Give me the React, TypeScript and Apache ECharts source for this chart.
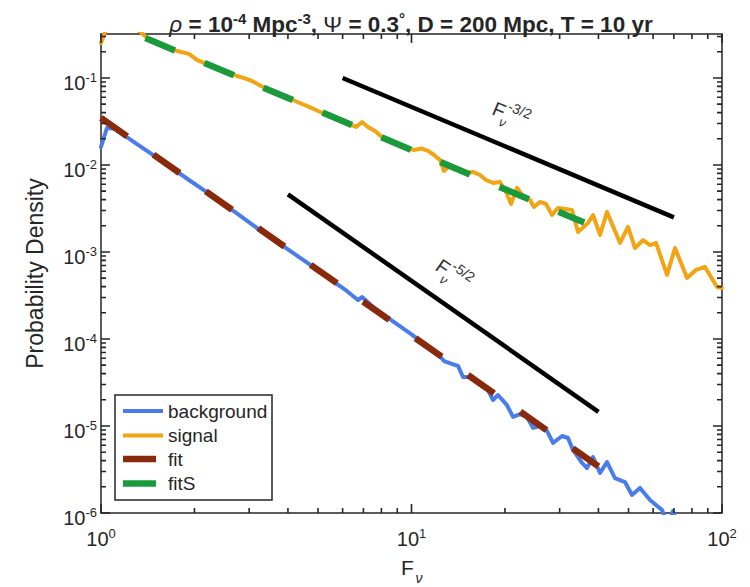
import React, { useEffect, useRef } from 'react';
import * as echarts from 'echarts';

const FONT = '"Liberation Sans", Arial, Helvetica, sans-serif';
const INK = '#262626';

// ---- data ----
const backgroundF = [1, 1.045, 1.109, 1.195, 1.306, 1.438, 1.584, 1.744, 1.92, 2.115, 2.329, 2.564, 2.824, 3.11, 3.424, 3.771, 4.153, 4.573, 5.036, 5.546, 6.107, 6.48, 6.725, 6.93, 7.46, 8.22, 9.05, 10, 10.97, 12.08, 12.73, 13.5, 14.12, 14.65, 15.43, 16.62, 17.64, 18.31, 18.99, 20.3, 21.23, 22.36, 23.55, 24.63, 25.93, 27.31, 28.56, 30.53, 31.92, 33.12, 35.41, 36.75, 38.42, 40.47, 42.62, 45.22, 48.71, 51.3, 54.44, 58.64, 64.1, 67.0, 69.5, 73.2];
const backgroundP = [0.0161, 0.0266, 0.026, 0.0216, 0.0174, 0.01374, 0.0108, 0.00853, 0.00672, 0.0053, 0.00418, 0.00329, 0.00256, 0.00199, 0.00157, 0.00124, 0.000975, 0.000768, 0.000605, 0.00047, 0.00037, 0.000312, 0.00028, 0.000304, 0.000239, 0.000184, 0.000145, 0.000113, 0.0000877, 0.000069, 0.0000558, 0.0000516, 0.000049, 0.0000366, 0.0000366, 0.0000304, 0.0000259, 0.0000199, 0.0000227, 0.0000174, 0.0000127, 0.0000137, 0.0000127, 0.0000095, 0.00001, 0.00000877, 0.00000638, 0.00000767, 0.00000728, 0.0000053, 0.00000376, 0.00000329, 0.0000044, 0.00000288, 0.00000385, 0.00000252, 0.00000227, 0.00000161, 0.00000194, 0.00000141, 0.00000108, 0.00000073, 0.00000105, 0.00000064];

const signalF = [1, 1.061, 1.126, 1.195, 1.268, 1.345, 1.428, 1.515, 1.607, 1.706, 1.81, 1.92, 2.038, 2.163, 2.294, 2.435, 2.584, 2.742, 2.91, 3.087, 3.276, 3.476, 3.688, 3.914, 4.153, 4.407, 4.676, 4.962, 5.265, 5.587, 5.929, 6.29, 6.63, 6.93, 7.24, 7.63, 8.09, 8.59, 9.12, 9.67, 10.19, 10.73, 11.3, 11.82, 12.36, 12.73, 13.31, 14.12, 14.98, 15.78, 16.62, 17.38, 18.31, 19.28, 20.16, 20.92, 21.87, 22.87, 24.08, 24.8, 25.93, 27.12, 28.35, 29.64, 31.22, 32.88, 34.38, 37.02, 38.42, 40.47, 42.62, 46.95, 49.82, 52.47, 55.67, 58.64, 61.31, 66.52, 70.58, 77.17, 82.47, 88.15, 96.36, 100];
const signalP = [0.252, 0.441, 0.45, 0.42, 0.38, 0.335, 0.274, 0.259, 0.23, 0.21, 0.199, 0.189, 0.161, 0.147, 0.1356, 0.1236, 0.114, 0.1054, 0.0987, 0.0912, 0.0809, 0.0728, 0.0664, 0.0605, 0.0558, 0.0509, 0.0465, 0.0423, 0.0385, 0.0356, 0.0325, 0.0296, 0.02735, 0.0312, 0.02735, 0.0246, 0.0204, 0.0186, 0.017, 0.0156, 0.01486, 0.01549, 0.01449, 0.01303, 0.0114, 0.00853, 0.01, 0.009, 0.0081, 0.00831, 0.00767, 0.00672, 0.00621, 0.00638, 0.0049, 0.00356, 0.00545, 0.00441, 0.00396, 0.00329, 0.00376, 0.00356, 0.00266, 0.00321, 0.00312, 0.00304, 0.0017, 0.00215, 0.00266, 0.00157, 0.00288, 0.00127, 0.00194, 0.00111, 0.00137, 0.0012, 0.00127, 0.000545, 0.00111, 0.000502, 0.000621, 0.000673, 0.000396, 0.000386];

const fitF = [1, 40];
const fitP = [0.0347, 0.00000343];
const fitSF = [1.39, 36];
const fitSP = [0.287, 0.00218];
const guide32F = [6, 70];
const guide32P = [0.1, 0.0025];
const guide52F = [4, 40];
const guide52P = [0.0046, 0.00001455];

const xMajorTicks = [1, 10, 100];
const xMinorTicks = [2, 3, 4, 5, 6, 7, 8, 9, 20, 30, 40, 50, 60, 70, 80, 90];
const yMajorTicks = [1e-6, 1e-5, 1e-4, 1e-3, 1e-2, 1e-1];
const yMinorTicks = [
  2e-6, 3e-6, 4e-6, 5e-6, 6e-6, 7e-6, 8e-6, 9e-6,
  2e-5, 3e-5, 4e-5, 5e-5, 6e-5, 7e-5, 8e-5, 9e-5,
  2e-4, 3e-4, 4e-4, 5e-4, 6e-4, 7e-4, 8e-4, 9e-4,
  2e-3, 3e-3, 4e-3, 5e-3, 6e-3, 7e-3, 8e-3, 9e-3,
  2e-2, 3e-2, 4e-2, 5e-2, 6e-2, 7e-2, 8e-2, 9e-2,
  2e-1, 3e-1,
];
const X_MIN = 1;
const X_MAX = 100;
const Y_MIN = 1e-6;
const Y_MAX = 0.32;

// grid geometry
const GRID = { left: 101, right: 28, top: 34, bottom: 74 };
const W = 750;
const H = 587;
const MAJOR_LEN = 9;
const MINOR_LEN = 5;

const pairs = (xs: number[], ys: number[]) => xs.map((x, i) => [x, ys[i]]);

const COLORS = {
  background: '#4A7DEB',
  signal: '#F2A414',
  fit: '#8A2A0C',
  fitS: '#1B9A3C',
  guide: '#000000',
};

const tickRich = {
  b: { fontSize: 20, lineHeight: 24, fontFamily: FONT, color: INK },
  s: { fontSize: 13, lineHeight: 13, verticalAlign: 'top', fontFamily: FONT, color: INK },
};
const powLabel = (v: number) => `{b|10}{s|${Math.round(Math.log10(v))}}`;

const titleText =
  '{i|ρ}{b| = 10}{s|-4}{b| Mpc}{s|-3}{b|, }{p|Ψ}{b| = 0.3}{s|°}{b|, D = 200 Mpc, T = 10 yr}';

function slopeLabel(x: number, y: number, rot: number, exp: string) {
  return {
    type: 'group',
    x,
    y,
    rotation: rot,
    z: 10,
    children: [
      { type: 'text', x: 0, y: 0, style: { text: 'F', fontSize: 20, fontFamily: FONT, fill: '#333', align: 'center', verticalAlign: 'middle' } },
      { type: 'text', x: 7.5, y: -8, style: { text: exp, fontSize: 14, fontFamily: FONT, fill: '#333', align: 'left', verticalAlign: 'middle' } },
      { type: 'text', x: 8, y: 10, style: { text: 'ν', fontSize: 13, fontStyle: 'italic', fontFamily: FONT, fill: '#333', align: 'center', verticalAlign: 'middle' } },
    ],
  };
}

const baseGraphic: any[] = [
  {
    type: 'text',
    x: 411,
    y: 24,
    z: 10,
    style: {
      text: titleText,
      align: 'center',
      verticalAlign: 'middle',
      fill: INK,
      rich: {
        b: { fontSize: 22.5, lineHeight: 26, fontWeight: 'bold', fontFamily: FONT, fill: INK },
        i: { fontSize: 22.5, lineHeight: 26, fontStyle: 'italic', fontFamily: FONT, fill: INK },
        p: { fontSize: 22.5, lineHeight: 26, fontFamily: FONT, fill: INK },
        s: { fontSize: 15, lineHeight: 19, verticalAlign: 'top', fontWeight: 'bold', fontFamily: FONT, fill: INK },
      },
    },
  },
  {
    type: 'text',
    x: 407.5,
    y: 567,
    z: 10,
    style: { text: 'F', fontSize: 21, fontFamily: FONT, fill: INK, align: 'center', verticalAlign: 'middle' },
  },
  {
    type: 'text',
    x: 419,
    y: 577.5,
    z: 10,
    style: { text: 'ν', fontSize: 14, fontStyle: 'italic', fontFamily: FONT, fill: INK, align: 'center', verticalAlign: 'middle' },
  },
  {
    type: 'rect',
    z: 3,
    shape: { x: 115, y: 395, width: 157, height: 105 },
    style: { fill: '#ffffff', stroke: INK, lineWidth: 1.5 },
  },
  slopeLabel(499, 110, -0.398, '-3/2'),
  slopeLabel(443, 267, -0.611, '-5/2'),
];

// Tick segments expressed in data space: a fixed pixel length on a log axis is a fixed ratio.
function buildTickSegments() {
  const plotW = W - GRID.left - GRID.right;
  const plotH = H - GRID.top - GRID.bottom;
  const xPxPerDecade = plotW / Math.log10(X_MAX / X_MIN);
  const yPxPerDecade = plotH / Math.log10(Y_MAX / Y_MIN);
  const xRatio = (px: number) => Math.pow(10, px / xPxPerDecade);
  const yRatio = (px: number) => Math.pow(10, px / yPxPerDecade);
  const segs: any[] = [];
  const gap = () => segs.push([X_MIN, '-']);
  const addX = (v: number, len: number) => {
    segs.push([v, Y_MIN], [v, Y_MIN * yRatio(len)]);
    gap();
    segs.push([v, Y_MAX], [v, Y_MAX / yRatio(len)]);
    gap();
  };
  const addY = (v: number, len: number) => {
    segs.push([X_MIN, v], [X_MIN * xRatio(len), v]);
    gap();
    segs.push([X_MAX, v], [X_MAX / xRatio(len), v]);
    gap();
  };
  xMajorTicks.forEach((v) => addX(v, MAJOR_LEN));
  xMinorTicks.forEach((v) => addX(v, MINOR_LEN));
  yMajorTicks.forEach((v) => addY(v, MAJOR_LEN));
  yMinorTicks.forEach((v) => addY(v, MINOR_LEN));
  return segs;
}

export default function App() {
  const ref = useRef<HTMLDivElement>(null);
  useEffect(() => {
    if (!ref.current) return;
    const chart = echarts.init(ref.current, null, { renderer: 'svg' });
    const legendText = { fontSize: 19, lineHeight: 20, fontFamily: FONT, color: INK };

    chart.setOption({
      animation: false,
      backgroundColor: '#ffffff',
      textStyle: { fontFamily: FONT },
      grid: {
        ...GRID, containLabel: false,
        show: true, borderColor: INK, borderWidth: 1.5, backgroundColor: 'transparent',
      },
      xAxis: {
        type: 'log',
        logBase: 10,
        min: X_MIN,
        max: X_MAX,
        position: 'bottom',
        splitLine: { show: false },
        axisLine: { show: false },
        axisTick: { show: false },
        minorTick: { show: false },
        axisLabel: { show: true, customValues: xMajorTicks, formatter: powLabel, rich: tickRich, margin: 14 },
      },
      yAxis: {
        type: 'log',
        logBase: 10,
        min: Y_MIN,
        max: Y_MAX,
        position: 'left',
        splitLine: { show: false },
        axisLine: { show: false },
        axisTick: { show: false },
        minorTick: { show: false },
        axisLabel: { show: true, customValues: yMajorTicks, formatter: powLabel, rich: tickRich, margin: 4, padding: [10, 0, 0, 0] },
        name: 'Probability Density',
        nameLocation: 'middle',
        nameRotate: 90,
        nameGap: 55,
        nameTextStyle: { fontSize: 23, lineHeight: 23, fontFamily: FONT, color: INK },
      },
      legend: [
        {
          data: ['background', 'signal'],
          orient: 'vertical',
          left: 123,
          top: 401,
          icon: 'rect',
          itemWidth: 40,
          itemHeight: 4,
          itemGap: 4.6,
          padding: 0,
          selectedMode: false,
          itemStyle: { borderWidth: 0 },
          textStyle: legendText,
          z: 5,
        },
        {
          data: ['fit', 'fitS'],
          orient: 'vertical',
          left: 123,
          top: 449,
          icon: 'rect',
          itemWidth: 33,
          itemHeight: 6.5,
          itemGap: 4.6,
          padding: 0,
          selectedMode: false,
          itemStyle: { borderWidth: 0 },
          textStyle: { ...legendText, padding: [0, 0, 0, 7] },
          z: 5,
        },
      ],
      graphic: baseGraphic,
      series: [
        {
          name: 'axis ticks',
          type: 'line',
          data: buildTickSegments(),
          showSymbol: false,
          symbol: 'none',
          connectNulls: false,
          silent: true,
          clip: false,
          color: INK,
          lineStyle: { width: 1.6, color: INK, cap: 'butt' },
          z: 6,
        },
        {
          name: 'background',
          type: 'line',
          data: pairs(backgroundF, backgroundP),
          showSymbol: false,
          symbol: 'none',
          color: COLORS.background,
          lineStyle: { width: 4, color: COLORS.background, join: 'round', cap: 'round' },
          z: 2,
        },
        {
          name: 'signal',
          type: 'line',
          data: pairs(signalF, signalP),
          showSymbol: false,
          symbol: 'none',
          color: COLORS.signal,
          lineStyle: { width: 4, color: COLORS.signal, join: 'round', cap: 'round' },
          z: 2,
        },
        {
          name: 'fit',
          type: 'line',
          data: pairs(fitF, fitP),
          showSymbol: false,
          symbol: 'none',
          color: COLORS.fit,
          lineStyle: { width: 6.5, color: COLORS.fit, type: [32, 32] },
          z: 3,
        },
        {
          name: 'fitS',
          type: 'line',
          data: pairs(fitSF, fitSP),
          showSymbol: false,
          symbol: 'none',
          color: COLORS.fitS,
          lineStyle: { width: 6.5, color: COLORS.fitS, type: [32, 32] },
          z: 3,
        },
        {
          name: 'F^-3/2 guide',
          type: 'line',
          data: pairs(guide32F, guide32P),
          showSymbol: false,
          symbol: 'none',
          color: COLORS.guide,
          lineStyle: { width: 4.5, color: COLORS.guide },
          z: 3,
        },
        {
          name: 'F^-5/2 guide',
          type: 'line',
          data: pairs(guide52F, guide52P),
          showSymbol: false,
          symbol: 'none',
          color: COLORS.guide,
          lineStyle: { width: 4.5, color: COLORS.guide },
          z: 3,
        },
      ],
    });

    return () => chart.dispose();
  }, []);
  return (
    <div
      ref={ref}
      style={{ position: 'fixed', left: 0, top: 0, width: 750, height: 587, background: '#fff' }}
    />
  );
}
